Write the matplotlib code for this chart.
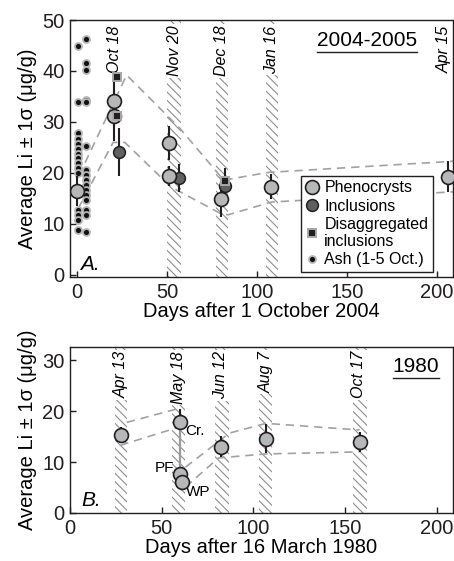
import matplotlib
matplotlib.use('Agg')
import matplotlib.pyplot as plt
from matplotlib.lines import Line2D

plt.rcParams['font.family'] = ['Liberation Sans', 'DejaVu Sans']
plt.rcParams['hatch.linewidth'] = 0.8

# ---------------- Panel A data (2004-2005) ----------------
A_pheno_day = [0, 20.5, 20.5, 51, 51, 80, 108, 206]
A_pheno_val = [16.5, 34.1, 31.2, 25.9, 19.4, 14.9, 17.3, 19.3]
A_pheno_err = [3.0, 5.0, 5.0, 3.3, 2.0, 3.5, 2.5, 3.0]

A_incl_day = [23, 56.5, 82]
A_incl_val = [24.1, 19.0, 17.5]
A_incl_err = [4.7, 2.7, 1.5]

A_disag_day = [22, 22, 82]
A_disag_val = [38.8, 31.2, 18.4]
A_disag_err = [0, 0, 2.6]

A_ash_day = [0.7] * 15 + [5] * 16
A_ash_val = [44.9, 34.0, 27.9, 26.6, 25.7, 24.8, 23.8, 22.9, 21.9, 20.9, 19.9,
             12.8, 11.8, 10.8, 8.8,
             46.2, 41.5, 40.2, 34.3, 34.0, 25.2, 20.6, 19.6, 18.6, 17.7, 16.7,
             15.7, 14.7, 12.8, 11.8, 8.5]

A_env_up_day = [1, 27.5, 57, 81.5, 106, 209]
A_env_up_val = [19.5, 39.2, 28.8, 18.6, 20.1, 22.3]
A_env_lo_day = [0.5, 20, 26.5, 52, 80, 84, 108, 209]
A_env_lo_val = [13.0, 26.0, 26.0, 17.3, 12.0, 11.8, 14.3, 16.3]

A_bands = [(50, 58), (77, 84), (105, 111.7)]
A_date_labels = ['Oct 18', 'Nov 20', 'Dec 18', 'Jan 16', 'Apr 15']
A_date_days = [21, 54, 80.5, 108.3, 204]

# ---------------- Panel B data (1980) ----------------
B_pheno_day = [28, 60, 60, 61, 82.5, 107, 158]
B_pheno_val = [15.3, 17.8, 7.6, 6.1, 12.9, 14.5, 13.9]
B_err_lo = [1.5, 0.0, 0.0, 1.6, 2.0, 2.8, 2.0]
B_err_hi = [1.5, 2.6, 0.0, 1.6, 2.2, 3.0, 2.0]
B_point_labels = ['Cr.', 'PF', 'WP']

B_env1_up_day = [31, 58]
B_env1_up_val = [17.8, 20.4]
B_env1_lo_day = [27.5, 58]
B_env1_lo_val = [13.3, 16.7]
B_env2_up_day = [63, 87, 107, 158]
B_env2_up_val = [9.0, 15.7, 17.6, 16.3]
B_env2_lo_day = [63, 81, 87, 107, 158]
B_env2_lo_val = [5.1, 10.8, 11.0, 11.6, 12.0]

B_bands = [(24.7, 31.3), (55.5, 63), (79, 87), (103, 110.5), (154.4, 162)]
B_date_labels = ['Apr 13', 'May 18', 'Jun 12', 'Aug 7', 'Oct 17']
B_date_days = [28, 59.3, 82.4, 107, 157.7]

# ---------------- styles ----------------
PHENO_FC = '#b5b7b9'
INCL_FC = '#5e6062'
EDGE = '#231f20'
DASH_C = '#a0a2a4'
HATCH_C = '#8e8e8e'
FS = 14.5

fig = plt.figure(figsize=(4.54, 5.61), dpi=100)
axA = fig.add_axes([70 / 454, 1 - 277 / 561, 383 / 454, 257 / 561])
axB = fig.add_axes([70 / 454, 1 - 513 / 561, 383 / 454, 166 / 561])


def style(ax):
    for s in ax.spines.values():
        s.set_linewidth(1.0)
        s.set_color('#231f20')
    ax.tick_params(direction='in', length=4, width=1, labelsize=FS, pad=4,
                   colors='#231f20')


def bands(ax, blist):
    for x0, x1 in blist:
        ax.axvspan(x0, x1, facecolor='white', edgecolor=HATCH_C,
                   hatch='\\\\\\\\', lw=0, zorder=0)


def date_labels(ax, labels, days, ytop):
    for lab, d in zip(labels, days):
        ax.text(d, ytop, lab, rotation=90, ha='center', va='top',
                fontsize=11.5, style='italic',
                transform=ax.get_xaxis_transform(), zorder=2,
                bbox=dict(facecolor='white', edgecolor='none', pad=1))


def pheno(ax, x, y, ms=10):
    ax.plot(x, y, 'o', ms=ms, mfc=PHENO_FC, mec=EDGE, mew=1.2, ls='none', zorder=5)


# ---------------- Panel A ----------------
style(axA)
bands(axA, A_bands)
date_labels(axA, A_date_labels, A_date_days, 0.978)
axA.plot(A_env_up_day, A_env_up_val, ls=(0, (5, 3.5)), color=DASH_C, lw=1.2, zorder=1)
axA.plot(A_env_lo_day, A_env_lo_val, ls=(0, (5, 3.5)), color=DASH_C, lw=1.2, zorder=1)

axA.plot(A_ash_day, A_ash_val, 'o', ms=5, mfc='#111111', mec='#b4b4b4', mew=1.3,
         ls='none', zorder=3)
axA.errorbar(A_pheno_day, A_pheno_val, yerr=A_pheno_err, fmt='none', ecolor=EDGE,
             elinewidth=1.5, capsize=0, zorder=4)
axA.errorbar(A_incl_day, A_incl_val, yerr=A_incl_err, fmt='none', ecolor=EDGE,
             elinewidth=1.5, capsize=0, zorder=4)
axA.errorbar(A_disag_day, A_disag_val, yerr=A_disag_err, fmt='none', ecolor=EDGE,
             elinewidth=1.5, capsize=0, zorder=4)
axA.plot(A_incl_day, A_incl_val, 'o', ms=8.5, mfc=INCL_FC, mec=EDGE, mew=1.1,
         ls='none', zorder=5)
pheno(axA, A_pheno_day, A_pheno_val)
axA.plot(A_disag_day, A_disag_val, 's', ms=6, mfc='#231f20', mec='#a8a8a8', mew=1.4,
         ls='none', zorder=6)

axA.set_xlim(-4, 209)
axA.set_ylim(-0.4, 50)
axA.set_xticks([0, 50, 100, 150, 200])
axA.set_yticks([0, 10, 20, 30, 40, 50])
axA.set_xlabel('Days after 1 October 2004', fontsize=FS, labelpad=0)
axA.set_ylabel('Average Li \u00b1 1\u03c3 (\u03bcg/g)', fontsize=FS, labelpad=4)
axA.text(0.025, 0.012, 'A.', transform=axA.transAxes, fontsize=15,
         style='italic', ha='left', va='bottom')
tA = axA.text(0.775, 0.922, '2004-2005', transform=axA.transAxes, fontsize=15,
              ha='center', va='center')

handles = [
    Line2D([], [], marker='o', ls='none', ms=10, mfc=PHENO_FC, mec=EDGE, mew=1.2),
    Line2D([], [], marker='o', ls='none', ms=8.5, mfc=INCL_FC, mec=EDGE, mew=1.1),
    Line2D([], [], marker='s', ls='none', ms=6, mfc='#231f20', mec='#a8a8a8', mew=1.4),
    Line2D([], [], marker='o', ls='none', ms=5, mfc='#111111', mec='#b4b4b4', mew=1.3),
]
labels = ['Phenocrysts', 'Inclusions', 'Disaggregated\ninclusions', 'Ash (1-5 Oct.)']
leg = axA.legend(handles, labels, loc='lower right', bbox_to_anchor=(0.948, 0.019),
                 fontsize=11.5, handlelength=0.8, handletextpad=0.35, borderpad=0.3,
                 labelspacing=0.2, fancybox=False, framealpha=1, borderaxespad=0)
leg.get_frame().set_edgecolor('#231f20')
leg.get_frame().set_linewidth(1.0)
leg.set_zorder(10)

# ---------------- Panel B ----------------
style(axB)
bands(axB, B_bands)
date_labels(axB, B_date_labels, B_date_days, 0.975)
for dd, vv in [(B_env1_up_day, B_env1_up_val), (B_env1_lo_day, B_env1_lo_val),
               (B_env2_up_day, B_env2_up_val), (B_env2_lo_day, B_env2_lo_val)]:
    axB.plot(dd, vv, ls=(0, (5, 3.5)), color=DASH_C, lw=1.2, zorder=1)

axB.plot([B_pheno_day[1], B_pheno_day[2]], [B_pheno_val[1], B_pheno_val[2]],
         color='#9a9a9a', lw=1.6, zorder=3)
axB.errorbar(B_pheno_day, B_pheno_val, yerr=[B_err_lo, B_err_hi], fmt='none',
             ecolor=EDGE, elinewidth=1.5, capsize=0, zorder=4)
pheno(axB, B_pheno_day, B_pheno_val)
axB.text(B_pheno_day[1] + 3, B_pheno_val[1] - 1.6, B_point_labels[0], fontsize=11,
         ha='left', va='center')
axB.text(B_pheno_day[2] - 3, B_pheno_val[2] + 1.2, B_point_labels[1], fontsize=11,
         ha='right', va='center')
axB.text(B_pheno_day[3] + 2.5, B_pheno_val[3] - 1.9, B_point_labels[2], fontsize=11,
         ha='left', va='center')

axB.set_xlim(0, 209)
axB.set_ylim(0, 32.6)
axB.set_xticks([0, 50, 100, 150, 200])
axB.set_yticks([0, 10, 20, 30])
axB.set_xlabel('Days after 16 March 1980', fontsize=FS, labelpad=0)
axB.set_ylabel('Average Li \u00b1 1\u03c3 (\u03bcg/g)', fontsize=FS, labelpad=4)
axB.text(0.029, 0.02, 'B.', transform=axB.transAxes, fontsize=15,
         style='italic', ha='left', va='bottom')
tB = axB.text(0.903, 0.88, '1980', transform=axB.transAxes, fontsize=15,
              ha='center', va='center')

# underline titles
fig.canvas.draw()
r = fig.canvas.get_renderer()
for ax, t in [(axA, tA), (axB, tB)]:
    bb = t.get_window_extent(r).transformed(ax.transAxes.inverted())
    ax.plot([bb.x0, bb.x1], [bb.y0 - 0.01, bb.y0 - 0.01], color='#231f20', lw=1.0,
            transform=ax.transAxes, clip_on=False)

fig.savefig('out.png', dpi=100)
